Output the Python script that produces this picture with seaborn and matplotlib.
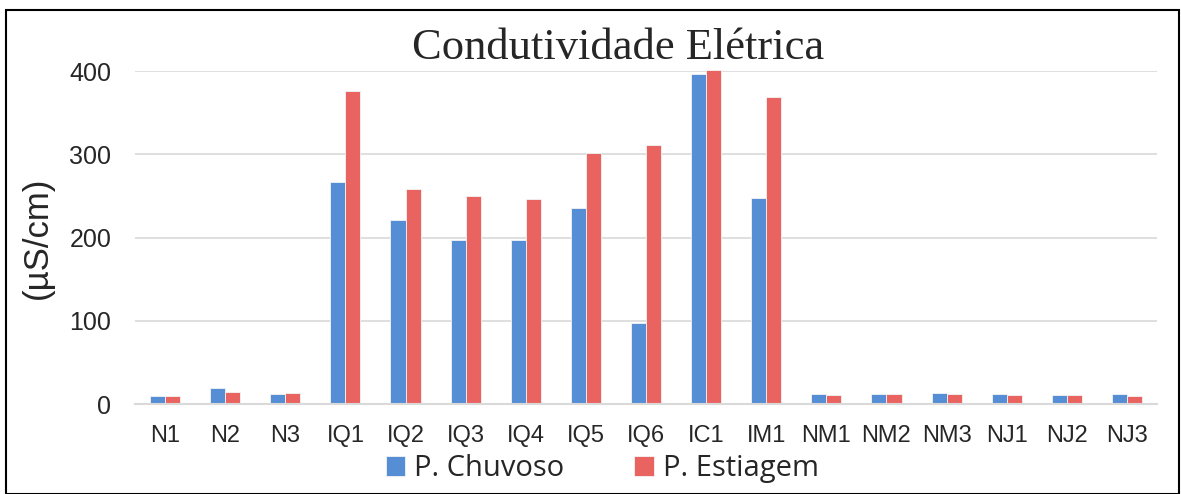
import numpy as np
import pandas as pd
import seaborn as sns
import matplotlib.pyplot as plt
from matplotlib.patches import Rectangle

# --- Data ---
sites = ["N1", "N2", "N3", "IQ1", "IQ2", "IQ3", "IQ4", "IQ5", "IQ6", "IC1", "IM1",
         "NM1", "NM2", "NM3", "NJ1", "NJ2", "NJ3"]
chuvoso = [10, 19.6, 11.6, 267, 221, 197, 197, 235, 98, 396, 247,
           12, 11.6, 13.6, 12.4, 11.2, 11.6]
estiagem = [9.5, 15, 13.5, 376, 259, 250, 246, 302, 311, 401, 369,
            11.2, 11.6, 12, 11.2, 10.8, 10]
periods = ["P. Chuvoso", "P. Estiagem"]
colors = ["#558ED5", "#E96461"]

df = pd.DataFrame({
    "Site": sites * 2,
    "Value": chuvoso + estiagem,
    "Period": [periods[0]] * len(sites) + [periods[1]] * len(sites),
})

# --- Plot ---
sns.set_style("white")
fig = plt.figure(figsize=(11.81, 4.94), dpi=100)
ax = fig.add_axes([0.1143, 0.182, 0.8654, 0.674])

sns.barplot(data=df, x="Site", y="Value", hue="Period", palette=colors,
            width=0.5, gap=0, saturation=1, ax=ax, legend=True,
            edgecolor="#F4F4F4", linewidth=0.6)
for p in ax.patches:
    p.set_clip_on(False)

ax.set_ylim(0, 400)
ax.set_xlim(-0.5, len(sites) - 0.5)
ax.set_yticks([0, 100, 200, 300, 400])
ax.yaxis.grid(True, color="#D9D9D9", linewidth=1.2)
ax.set_axisbelow(True)
for s in ["left", "right", "top"]:
    ax.spines[s].set_visible(False)
ax.spines["bottom"].set_color("#D9D9D9")
ax.spines["bottom"].set_linewidth(1.5)

ax.tick_params(axis="x", length=0, labelsize=17, pad=15)
ax.tick_params(axis="y", length=0, labelsize=18, pad=17)
ax.set_xticks(np.arange(-0.5, len(sites), 1), minor=True)
ax.tick_params(axis="x", which="minor", length=9, width=1.5, color="#D9D9D9")
for lbl in ax.get_xticklabels() + ax.get_yticklabels():
    lbl.set_fontfamily("Liberation Sans")

ax.set_xlabel("")
ax.set_ylabel("(µS/cm)", fontsize=25, family="Liberation Sans", labelpad=11)

handles, labels = ax.get_legend_handles_labels()
ax.legend(handles, labels, loc="center", bbox_to_anchor=(0.51, 0.052),
          bbox_transform=fig.transFigure, ncol=2, frameon=False,
          prop={"family": "Open Sans", "size": 21}, handlelength=0.68,
          handleheight=0.68, handletextpad=0.3, columnspacing=2.4)

fig.text(0.523, 0.903, "Condutividade Elétrica", ha="center", va="center",
         fontsize=32, family="Liberation Serif")

fig.patches.append(Rectangle((0.005, 0.0), 0.993, 0.98, transform=fig.transFigure,
                             fill=False, edgecolor="black", linewidth=1.5))

plt.savefig("out.png", dpi=100)
plt.close()
